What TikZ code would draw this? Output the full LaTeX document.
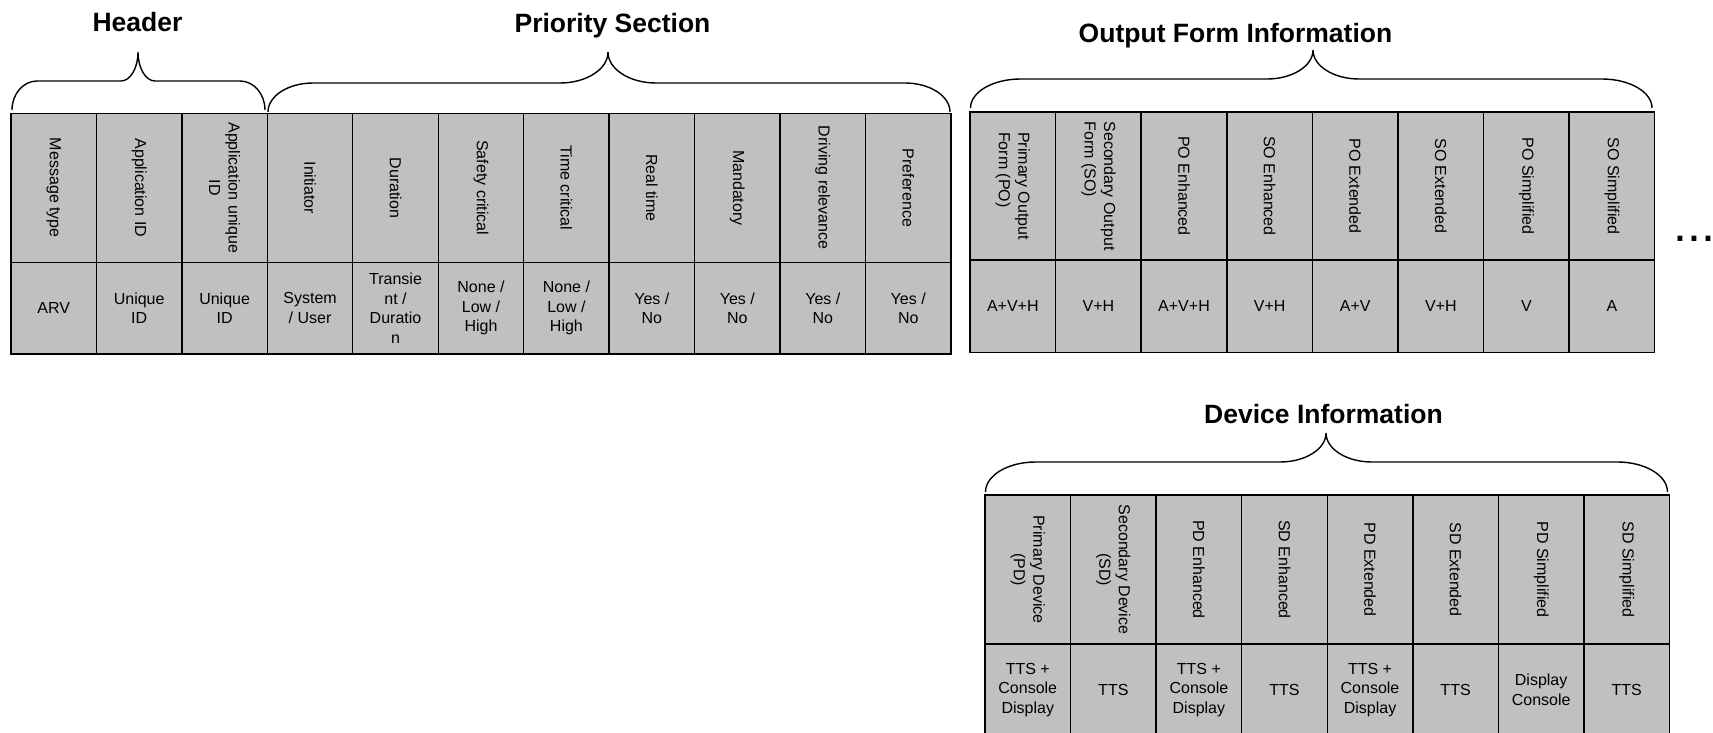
\documentclass[tikz,border=0pt]{standalone}
\usepackage{fontspec}
\setmainfont{Liberation Sans}
\definecolor{cellgray}{HTML}{C0C0C0}

% curly brace: x-left, x-right, x-tip, y-ends, y-flat, y-tip, end-curve width, tip-curve width
\newcommand{\curlybrace}[8]{%
  \draw[bracestyle] (#1,#4)
    .. controls (#1,{#4-0.552*(#4-#5)}) and ({#1+0.448*#7},#5) .. ({#1+#7},#5)
    -- ({#3-#8},#5)
    .. controls ({#3-0.448*#8},#5) and (#3,{#5-0.448*(#5-#6)}) .. (#3,#6)
    .. controls (#3,{#5-0.448*(#5-#6)}) and ({#3+0.448*#8},#5) .. ({#3+#8},#5)
    -- ({#2-#7},#5)
    .. controls ({#2-0.448*#7},#5) and (#2,{#4-0.552*(#4-#5)}) .. (#2,#4);
}

\begin{document}
\begin{tikzpicture}[x=1pt,y=-1pt,
  cell/.style={draw=black, line width=1.4pt, fill=cellgray, inner sep=0pt,
               align=center, font=\fontsize{16}{19.5}\selectfont},
  headcell/.style={cell, rotate=-90, minimum width=#1, minimum height=85.5},
  valcell/.style={cell, minimum height=#1, minimum width=85.5},
  title/.style={font=\fontsize{26.5}{30}\selectfont\bfseries, anchor=base, inner sep=0pt},
  bracestyle/.style={draw=black, line width=1.4pt},
]
\useasboundingbox (0,0) rectangle (1713,733);

% ---- Header + Priority Section table ----
\foreach \txt [count=\i] in {Message type, Application ID, {Application unique\\ID},
    Initiator, Duration, Safety critical, Time critical, Real time, Mandatory,
    Driving relevance, Preference}
  \node[headcell=149] (L-h\i) at ({11+(\i-0.5)*85.45}, 187.8) {\txt};
\foreach \txt [count=\i] in {ARV, {Unique\\ID}, {Unique\\ID}, {System\\/ User},
    {Transie\\nt /\\Duratio\\n}, {None /\\Low /\\High}, {None /\\Low /\\High},
    {Yes /\\No}, {Yes /\\No}, {Yes /\\No}, {Yes /\\No}}
  \node[valcell=91.7] (L-v\i) at ({11+(\i-0.5)*85.45}, 308.2) {\txt};

\node[title] (t-header) at (137.5,32) {Header};
\node[title] (t-prio) at (612.5,33) {Priority Section};
\curlybrace{12}{265}{138}{110}{81}{52}{25}{17}
\curlybrace{268}{950}{608}{112}{83}{52}{45}{48}

% ---- Output Form Information table ----
\node[headcell=148, align=left] (O-h1) at ({970+0.5*85.6}, 186) {Primary Output\\Form (PO)};
\node[headcell=148, align=left] (O-h2) at ({970+1.5*85.6}, 186) {Secondary Output\\Form (SO)};
\foreach \txt [count=\i from 3] in {PO Enhanced, SO Enhanced, PO Extended, SO Extended,
    PO Simplified, SO Simplified}
  \node[headcell=148] (O-h\i) at ({970+(\i-0.5)*85.6}, 186) {\txt};
\foreach \txt [count=\i] in {A+V+H, V+H, A+V+H, V+H, A+V, V+H, V, A}
  \node[valcell=92.5] (O-v\i) at ({970+(\i-0.5)*85.6}, 306.2) {\txt};

\node[title] (t-output) at (1235.5,43) {Output Form Information};
\curlybrace{970.5}{1652}{1313}{108}{79}{50}{50}{46}

\node[font=\fontsize{50}{50}\selectfont, anchor=base west, inner sep=0pt] (more) at (1673,241) {...};

% ---- Device Information table ----
\foreach \txt [count=\i] in {{Primary Device\\(PD)}, {Secondary Device\\(SD)}, PD Enhanced,
    SD Enhanced, PD Extended, SD Extended, PD Simplified, SD Simplified}
  \node[headcell=149] (D-h\i) at ({985+(\i-0.5)*85.56}, 569.5) {\txt};
\foreach \txt [count=\i] in {{TTS +\\Console\\Display}, TTS, {TTS +\\Console\\Display}, TTS,
    {TTS +\\Console\\Display}, TTS, {Display\\Console}, TTS}
  \node[valcell=92] (D-v\i) at ({985+(\i-0.5)*85.56}, 690) {\txt};

\node[title] (t-device) at (1323.5,423) {Device Information};
\curlybrace{985.5}{1667.5}{1326}{492}{462}{433}{50}{46}
\end{tikzpicture}
\end{document}
